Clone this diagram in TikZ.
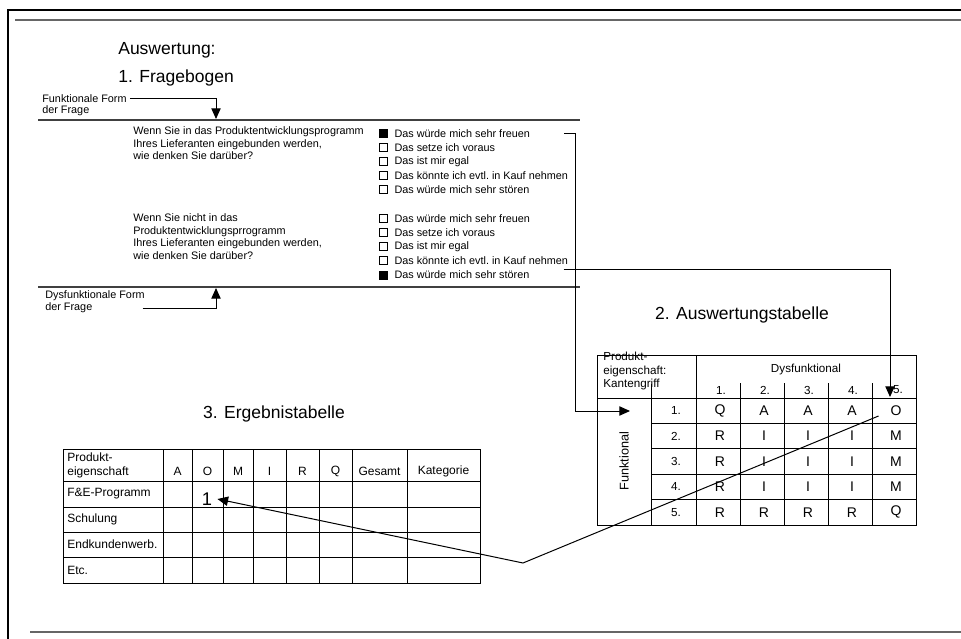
\documentclass[tikz,border=0pt]{standalone}
\usepackage{fontspec}
\setmainfont{Liberation Sans}
\usetikzlibrary{positioning,arrows.meta}
\newcommand{\klein}{\fontsize{6.5}{7.5}\selectfont}
\newcommand{\tabfont}{\fontsize{7.2}{8.4}\selectfont}

\begin{document}
\begin{tikzpicture}[x=0.6pt,y=-0.6pt,
    every node/.style={inner sep=0pt},
    titel/.style={font=\fontsize{10.5}{12}\selectfont},
    frage/.style={anchor=west,align=left,font=\klein},
    antw/.style={anchor=west,font=\klein},
    kbox/.style={draw,minimum size=4.8pt,line width=0.6pt},
    kboxan/.style={kbox,fill=black},
    kopf/.style={font=\fontsize{7}{8.2}\selectfont},
    zelle/.style={font=\fontsize{8.4}{9}\selectfont},
    tab/.style={font=\tabfont},
    pfeil/.style={line width=0.6pt,-{Triangle[length=6.4pt,width=5.6pt]}},
    linie/.style={line width=0.6pt},
    regel/.style={draw=black!75,line width=0.8pt},
  ]
  \useasboundingbox (0,0) rectangle (961,639);
  % Rahmen
  \draw[line width=1.2pt] (961,10) -- (8,10) -- (8,639);
  \draw[draw=black!60,line width=0.8pt] (15,20) -- (961,20);
  \draw[draw=black!60,line width=0.8pt] (30,632) -- (961,632);

  % 1. Fragebogen
  \node[titel,anchor=west] (ausw) at (118,50) {Auswertung:};
  \node[titel,anchor=west] (frbg) at (118,78) {1. Fragebogen};
  \node[antw] (ff1) at (42,99) {Funktionale Form};
  \node[antw] (ff2) at (42,111) {der Frage};
  \draw[regel] (38,120) -- (580,120);
  \draw[regel] (38,287) -- (580,287);
  \coordinate (ffziel) at (216,119);
  \coordinate (dfziel) at (216,288);
  \draw[pfeil] (ff1.east) ++(3,0) -| (ffziel);
  \node[antw] (df1) at (45,296) {Dysfunktionale Form};
  \node[antw] (df2) at (45,308) {der Frage};
  \draw[pfeil] (df2.east) ++(50,0) -| (dfziel);

  \node[frage] (q1) at (133,143.5) {Wenn Sie in das Produktentwicklungsprogramm\\Ihres Lieferanten eingebunden werden,\\wie denken Sie darüber?};
  \node[frage] (q2) at (133,236.5) {Wenn Sie nicht in das\\Produktentwicklungsprrogramm\\Ihres Lieferanten eingebunden werden,\\wie denken Sie darüber?};

  \foreach \t/\s [count=\i] in {Das würde mich sehr freuen/kboxan, Das setze ich voraus/kbox,
      Das ist mir egal/kbox, Das könnte ich evtl.\ in Kauf nehmen/kbox, Das würde mich sehr stören/kbox}{
    \node[\s] (fb\i) at (383,{119+14.2*\i}) {};
    \node[antw,right=4pt of fb\i] (f\i) {\t};
  }
  \foreach \t/\s [count=\i] in {Das würde mich sehr freuen/kbox, Das setze ich voraus/kbox,
      Das ist mir egal/kbox, Das könnte ich evtl.\ in Kauf nehmen/kbox, Das würde mich sehr stören/kboxan}{
    \node[\s] (gb\i) at (383,{204+14.2*\i}) {};
    \node[antw,right=4pt of gb\i] (g\i) {\t};
  }

  % 2. Auswertungstabelle
  \node[titel] (t2titel) at (742,315) {2. Auswertungstabelle};
  \draw[linie] (597,355) rectangle (916,525);
  \draw[linie] (696,355) -- (696,525);
  \draw[linie] (651,384) -- (651,525);
  \draw[linie] (597,398) -- (916,398);
  \foreach \y in {423.4,448.8,474.2,499.6}
    \draw[linie] (651,\y) -- (916,\y);
  \foreach \x in {740,784,828,872}
    \draw[linie] (\x,383) -- (\x,525);
  \node[kopf,anchor=west,align=left] (eig) at (603,371) {Produkt-\\eigenschaft:\\Kantengriff};
  \node[kopf] (dysf) at (806,369) {Dysfunktional};
  \node[kopf,rotate=90,font=\fontsize{7.6}{8.4}\selectfont] (funk) at (624,461) {Funktional};
  \foreach \x [count=\k] in {721,765,809,853,898}
    \node[kopf] (d\k) at (\x,390) {\k.};
  \foreach \r in {1,...,5}
    \node[kopf] (n\r) at (676,{385.3+25.4*\r}) {\r.};
  \foreach \a/\b/\c/\d/\e [count=\r] in {Q/A/A/A/O, R/I/I/I/M, R/I/I/I/M, R/I/I/I/M, R/R/R/R/Q}{
    \node[zelle] (z\r-1) at (720,{385.3+25.4*\r}) {\a};
    \node[zelle] (z\r-2) at (764,{385.3+25.4*\r}) {\b};
    \node[zelle] (z\r-3) at (808,{385.3+25.4*\r}) {\c};
    \node[zelle] (z\r-4) at (852,{385.3+25.4*\r}) {\d};
    \node[zelle] (z\r-5) at (896,{385.3+25.4*\r}) {\e};
  }

  % 3. Ergebnistabelle
  \node[titel] (t3titel) at (274,414) {3. Ergebnistabelle};
  \draw[linie] (63,449) rectangle (480,583);
  \foreach \x in {163,192,223,253,286,319,352,407}
    \draw[linie] (\x,449) -- (\x,583);
  \foreach \y in {481,507,532,557}
    \draw[linie] (63,\y) -- (480,\y);
  \node[tab,anchor=west,align=left] (eig3) at (67,465) {Produkt-\\eigenschaft};
  \foreach \x/\t in {177.5/A,207.5/O,238/M,269.5/I,302.5/R,335.5/Q,379.5/Gesamt,443.5/Kategorie}
    \node[tab] (k-\t) at (\x,471) {\t};
  \node[tab,anchor=west] (fe) at (67,494) {F\&E-Programm};
  \node[tab,anchor=west] (sch) at (67,519.5) {Schulung};
  \node[tab,anchor=west] (ekw) at (67,544.5) {Endkundenwerb.};
  \node[tab,anchor=west] (etc) at (67,570) {Etc.};
  \node[font=\fontsize{11}{12}\selectfont] (eins) at (207,499) {1};

  % Verbindungen
  \coordinate (ein) at (630,411);
  \coordinate (aus) at (890,397);
  \coordinate (knick) at (523,563);
  \draw[pfeil] (f1.east) ++(34,0) -- ++(11,0) |- (ein);
  \draw[pfeil] (g5.north east) ++(34,-1) -| (aus);
  \draw[pfeil] ([xshift=-7pt]z1-5.south west) -- (knick) -- ([xshift=3pt]eins.east);
\end{tikzpicture}
\end{document}
